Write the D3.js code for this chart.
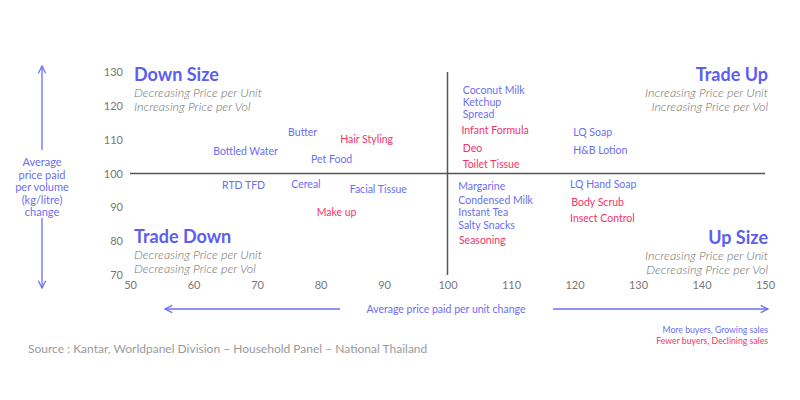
<!DOCTYPE html>
<html><head><meta charset="utf-8">
<script src="https://cdn.jsdelivr.net/npm/d3@7/dist/d3.min.js"></script>
<style>body{margin:0;background:#fff;} svg{display:block;font-family:Lato,"Open Sans",sans-serif;}</style>
</head><body><svg id="c" width="800" height="400"></svg>
<script>
const categories = ["Butter","Hair Styling","Bottled Water","Pet Food","RTD TFD","Cereal","Facial Tissue","Make up",
  "Coconut Milk","Ketchup","Spread","Infant Formula","Deo","Toilet Tissue","LQ Soap","H&B Lotion",
  "Margarine","Condensed Milk","Instant Tea","Salty Snacks","Seasoning","LQ Hand Soap","Body Scrub","Insect Control"];
const pricePerUnit = [74.9,83.1,63.1,78.5,64.5,75.4,84.6,79.4,
  102.4,102.4,102.4,102.2,102.4,102.4,119.8,119.8,
  101.7,101.7,101.7,101.7,101.8,119.3,119.5,119.3];
const pricePerVol = [112.2,110.2,106.6,104.2,96.5,96.8,95.4,88.6,
  124.7,121.1,117.6,112.8,107.5,102.8,112.2,106.9,
  96.2,92.1,88.6,84.7,80.3,96.8,91.5,86.8];
const growing = [1,0,1,1,1,1,1,0, 1,1,1,0,0,0,1,1, 1,1,1,1,0,1,0,0];
const xTicks = [50,60,70,80,90,100,110,120,130,140,150];
const yTicks = [70,80,90,100,110,120,130];

const blue = "#6b6ef2", pink = "#f2336b", titleBlue = "#5b5ef0", grey = "#777";
const svg = d3.select("#c");
const x = d3.scaleLinear().domain([50,150]).range([130,765]);
const y = d3.scaleLinear().domain([70,130]).range([275,72]);

// axes (labels only)
const xa = svg.append("g").attr("transform","translate(0,278)")
  .call(d3.axisBottom(x).tickValues(xTicks).tickSize(0).tickPadding(3));
xa.select(".domain").remove();
xa.selectAll("text").attr("fill",grey).style("font-size","11px").style("font-family","Lato");
const ya = svg.append("g").attr("transform","translate(125,0)")
  .call(d3.axisLeft(y).tickValues(yTicks).tickSize(0).tickPadding(2));
ya.select(".domain").remove();
ya.selectAll("text").attr("fill",grey).style("font-size","11px").style("font-family","Lato");

// quadrant lines
svg.append("line").attr("x1",x(50)).attr("x2",x(150)).attr("y1",y(100)).attr("y2",y(100))
  .attr("stroke","#555").attr("stroke-width",1.5);
svg.append("line").attr("x1",x(100)).attr("x2",x(100)).attr("y1",y(130)).attr("y2",y(70))
  .attr("stroke","#555").attr("stroke-width",1.5);

// labels
svg.append("g").selectAll("text").data(categories).join("text")
  .attr("x",(d,i)=>x(pricePerUnit[i]))
  .attr("y",(d,i)=>y(pricePerVol[i]))
  .attr("dy","0.35em")
  .attr("fill",(d,i)=>growing[i]?blue:pink)
  .style("font-size","10.5px")
  .text(d=>d);

// quadrant titles
const quads = [
  {t:"Down Size", s:["Decreasing Price per Unit","Increasing Price per Vol"], x:134, y:81, a:"start"},
  {t:"Trade Up", s:["Increasing Price per Unit","Increasing Price per Vol"], x:768, y:81, a:"end"},
  {t:"Trade Down", s:["Decreasing Price per Unit","Decreasing Price per Vol"], x:134, y:243, a:"start"},
  {t:"Up Size", s:["Increasing Price per Unit","Decreasing Price per Vol"], x:768, y:244, a:"end"}
];
quads.forEach(q=>{
  svg.append("text").attr("x",q.x).attr("y",q.y).attr("text-anchor",q.a)
    .attr("fill",titleBlue).style("font-size","18px").style("font-weight","bold").text(q.t);
  q.s.forEach((s,k)=>svg.append("text").attr("x",q.x).attr("y",q.y+15.5+k*14).attr("text-anchor",q.a)
    .attr("fill","#707070").style("font-size","12.5px").style("font-style","italic").style("font-weight","300").text(s));
});

// arrows
const defs = svg.append("defs");
defs.append("marker").attr("id","ah").attr("viewBox","0 0 10 10").attr("refX",9).attr("refY",5)
  .attr("markerWidth",7).attr("markerHeight",7).attr("orient","auto-start-reverse")
  .append("path").attr("d","M1,1 L9,5 L1,9").attr("fill","none").attr("stroke",blue).attr("stroke-width",1.4);
function arrow(x1,y1,x2,y2){
  svg.append("line").attr("x1",x1).attr("y1",y1).attr("x2",x2).attr("y2",y2)
    .attr("stroke",blue).attr("stroke-width",1.3).attr("marker-end","url(#ah)");
}
arrow(42,150,42,66);
arrow(42,218,42,288);
arrow(340,309,165,309);
arrow(553,309,768,309);

const ylab = ["Average","price paid","per volume","(kg/litre)","change"];
ylab.forEach((t,k)=>svg.append("text").attr("x",42).attr("y",166+k*12.6).attr("text-anchor","middle")
  .attr("fill",blue).style("font-size","11px").text(t));
svg.append("text").attr("x",446).attr("y",313).attr("text-anchor","middle").attr("fill",blue)
  .style("font-size","10.5px").text("Average price paid per unit change");

svg.append("text").attr("x",768).attr("y",333).attr("text-anchor","end").attr("fill",blue)
  .style("font-size","8.7px").text("More buyers, Growing sales");
svg.append("text").attr("x",768).attr("y",344).attr("text-anchor","end").attr("fill",pink)
  .style("font-size","8.7px").text("Fewer buyers, Declining sales");
svg.append("text").attr("x",28).attr("y",353).attr("fill","#9a9a9a")
  .style("font-size","12px").text("Source : Kantar, Worldpanel Division – Household Panel – National Thailand");
</script></body></html>
